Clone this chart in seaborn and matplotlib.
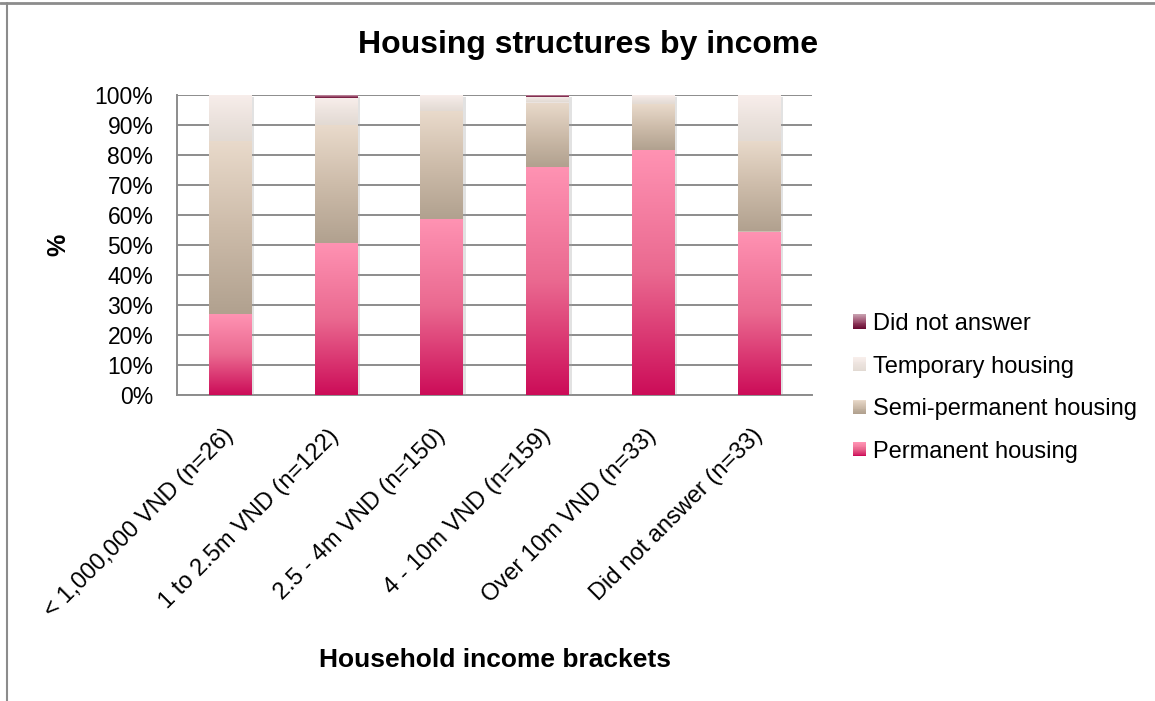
import numpy as np
import pandas as pd
import matplotlib
matplotlib.use("Agg")
import matplotlib.pyplot as plt
import seaborn as sns
from matplotlib.colors import LinearSegmentedColormap
from matplotlib.legend_handler import HandlerBase
from matplotlib.patches import Rectangle, Patch
from matplotlib.lines import Line2D
import matplotlib.patheffects as pe

# ---- data (percent of households in each income bracket) ----
brackets = [
    "< 1,000,000 VND (n=26)",
    "1 to 2.5m VND (n=122)",
    "2.5 - 4m VND (n=150)",
    "4 - 10m VND (n=159)",
    "Over 10m VND (n=33)",
    "Did not answer (n=33)",
]
permanent = [26.9, 50.8, 58.7, 76.1, 81.8, 54.5]
semi_permanent = [57.7, 39.3, 36.0, 21.4, 15.2, 30.3]
temporary = [15.4, 9.0, 5.3, 1.9, 3.0, 15.2]
did_not_answer = [0.0, 0.8, 0.0, 0.6, 0.0, 0.0]

series_names = ["Permanent housing", "Semi-permanent housing",
                "Temporary housing", "Did not answer"]
series_values = [permanent, semi_permanent, temporary, did_not_answer]

# vertical gradients (bottom -> top) for each housing type
gradients = {
    "Permanent housing": ["#cc0c58", "#ea6990", "#ff93b3"],
    "Semi-permanent housing": ["#b1a18f", "#cdbcaa", "#e9dacb"],
    "Temporary housing": ["#e2dad3", "#ece3de", "#f8eeeb"],
    "Did not answer": ["#6a0c33", "#9a4a6a", "#c79eae"],
}

sns.set_style("white")
plt.rcParams["font.family"] = ["Liberation Sans", "DejaVu Sans"]
plt.rcParams["text.color"] = "black"
plt.rcParams["axes.labelcolor"] = "black"
plt.rcParams["xtick.labelcolor"] = "black"
plt.rcParams["ytick.labelcolor"] = "black"

GRAY = "#8c8c8c"

fig = plt.figure(figsize=(11.55, 7.01), dpi=100)
ax = fig.add_axes([177 / 1155, 1 - 395 / 701, 635 / 1155, 300 / 701])

df = pd.DataFrame({"bracket": brackets})
bottom = np.zeros(len(brackets))
drawn = []
for name, vals in zip(series_names, series_values):
    vals = np.asarray(vals, dtype=float)
    n_before = len(ax.patches)
    sns.barplot(x=df["bracket"], y=vals, bottom=bottom, order=brackets,
                color=gradients[name][1], width=0.4, ax=ax,
                edgecolor="none", linewidth=0, zorder=3)
    drawn.append((name, ax.patches[n_before:]))
    bottom = bottom + vals

# gradient fill clipped to each bar segment, with a soft drop shadow
grad = np.linspace(0, 1, 256).reshape(-1, 1)
for name, patches in drawn:
    cmap = LinearSegmentedColormap.from_list(name, gradients[name])
    for p in patches:
        h = p.get_height()
        if h <= 0:
            continue
        x0, y0, w = p.get_x(), p.get_y(), p.get_width()
        p.set_path_effects([
            pe.SimplePatchShadow(offset=(2.2, -1.5), shadow_rgbFace="#a0a0a0", alpha=0.3),
            pe.Normal(),
        ])
        im = ax.imshow(grad, cmap=cmap, origin="lower", aspect="auto",
                       extent=[x0, x0 + w, y0, y0 + h], zorder=3.5,
                       interpolation="bilinear")
        im.set_clip_path(p)

ax.set_xlim(-0.5, len(brackets) - 0.5)
ax.set_ylim(0, 100)

# y axis: percent ticks every 10 with horizontal grid
ax.set_yticks(np.arange(0, 101, 10))
ax.set_yticklabels([f"{v}%" for v in range(0, 101, 10)], fontsize=16.5)
ax.yaxis.grid(True, color=GRAY, linewidth=1.4, zorder=0)
ax.xaxis.grid(False)
ax.set_axisbelow(True)
ax.tick_params(axis="y", direction="out", length=7, width=1.2, color=GRAY, pad=10)

# x axis: tick marks between categories, rotated labels at centres
ax.set_xticks(np.arange(len(brackets)))
ax.set_xticks(np.arange(-0.5, len(brackets), 1.0), minor=True)
ax.set_xticklabels(brackets, rotation=45, ha="right", va="center",
                   rotation_mode="anchor", fontsize=17)
ax.tick_params(axis="x", which="major", length=0, pad=27)
ax.tick_params(axis="x", which="minor", direction="out", length=7, width=1.2, color=GRAY)

for side in ["top", "right"]:
    ax.spines[side].set_visible(False)
for side in ["left", "bottom"]:
    ax.spines[side].set_color(GRAY)
    ax.spines[side].set_linewidth(1.4)

ax.set_xlabel("Household income brackets", fontsize=19, fontweight="bold")
ax.xaxis.label.set_va("center")
ax.xaxis.set_label_coords(0.5, (395 - 660) / 300)
ax.set_ylabel("%", fontsize=18, fontweight="bold")
ax.yaxis.label.set_va("center")
ax.yaxis.set_label_coords((58 - 177) / 635, 0.5)

fig.suptitle("Housing structures by income", x=588 / 1155, y=1 - 45 / 701,
             va="center", fontsize=23, fontweight="bold", color="black")


class GradientSquare(HandlerBase):
    def __init__(self, colors):
        super().__init__()
        self.cmap = LinearSegmentedColormap.from_list("h", colors)

    def create_artists(self, legend, orig_handle, xdescent, ydescent,
                       width, height, fontsize, trans):
        n = 16
        arts = []
        for i in range(n):
            arts.append(Rectangle((-xdescent, -ydescent + height * i / n),
                                  width, height / n * 1.05,
                                  facecolor=self.cmap(i / (n - 1)),
                                  edgecolor="none", transform=trans))
        return arts


legend_order = ["Did not answer", "Temporary housing",
                "Semi-permanent housing", "Permanent housing"]
handles = [Patch(facecolor=gradients[n][1], label=n) for n in legend_order]
fig.legend(handles=handles, labels=legend_order, loc="upper left",
           bbox_to_anchor=(853 / 1155, 1 - 313 / 701), frameon=False,
           fontsize=17, handlelength=0.55, handleheight=0.55,
           handletextpad=0.3, labelspacing=0.87, borderpad=0, borderaxespad=0,
           labelcolor="black",
           handler_map={h: GradientSquare(gradients[n]) for h, n in zip(handles, legend_order)})

# outer chart frame (top and left edges)
fig.add_artist(Line2D([0, 1], [1 - 3 / 701, 1 - 3 / 701], transform=fig.transFigure,
                      color=GRAY, linewidth=2))
fig.add_artist(Line2D([7 / 1155, 7 / 1155], [0, 1 - 3 / 701], transform=fig.transFigure,
                      color=GRAY, linewidth=1.5))

fig.savefig("out.png", dpi=100)
